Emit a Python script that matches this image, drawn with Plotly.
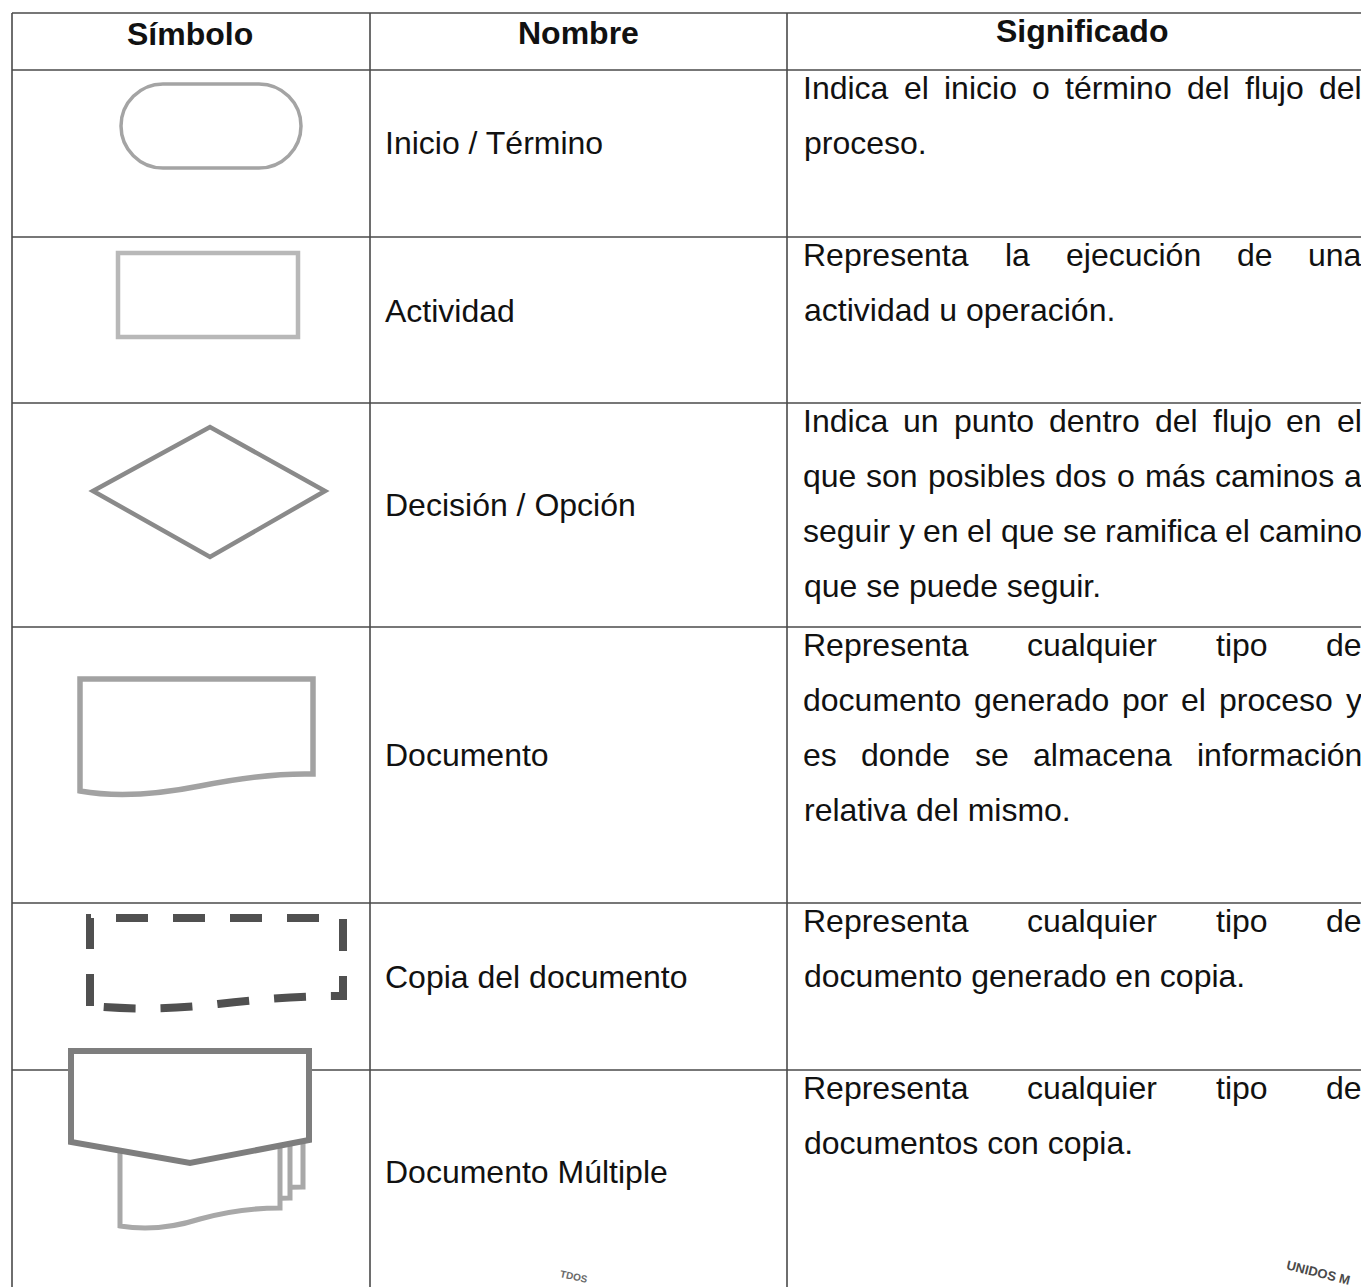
import plotly.graph_objects as go

W, H = 1369, 1287
PAGE_OFF = 8  # default body margin of the html page

# ---------------- data (text content) ----------------
headers = ["Símbolo", "Nombre", "Significado"]
names = ["Inicio / Término", "Actividad", "Decisión / Opción", "Documento",
         "Copia del documento", "Documento Múltiple"]
meanings = [
    ["Indica el inicio o término del flujo del", "proceso."],
    ["Representa la ejecución de una", "actividad u operación."],
    ["Indica un punto dentro del flujo en el", "que son posibles dos o más caminos a",
     "seguir y en el que se ramifica el camino", "que se puede seguir."],
    ["Representa cualquier tipo de", "documento generado por el proceso y",
     "es donde se almacena información", "relativa del mismo."],
    ["Representa cualquier tipo de", "documento generado en copia."],
    ["Representa cualquier tipo de", "documentos con copia."],
]
stamp_texts = ["TDOS", "UNIDOS M"]

# ---------------- layout geometry ----------------
col_x = [12, 370, 787]
top_y = 13
row_tops = [70, 237, 403, 627, 903, 1070]
header_x = [190, 578, 1082]
header_y = [34, 33, 31]
name_x = 383
name_y = [143, 311, 505, 755, 977, 1172]
mean_left, mean_right = 803, 1362
first_line_offset = 18
line_gap = 55
FONT = "Liberation Sans, Arial, Helvetica, sans-serif"
FS = 32
TXT = "#111111"
LINE = "#4a4a4a"

# Arial-like advance widths (per 1000 em) for justification
AW = {' ': 278, 'a': 556, 'b': 556, 'c': 500, 'd': 556, 'e': 556, 'f': 278, 'g': 556,
      'h': 556, 'i': 222, 'j': 222, 'k': 500, 'l': 222, 'm': 833, 'n': 556, 'o': 556,
      'p': 556, 'q': 556, 'r': 333, 's': 500, 't': 278, 'u': 556, 'v': 500, 'w': 722,
      'x': 500, 'y': 500, 'z': 500, 'á': 556, 'é': 556, 'í': 278, 'ó': 556, 'ú': 556,
      '.': 278, 'I': 278, 'R': 722}


def tw(s):
    return sum(AW.get(ch, 556) for ch in s) * FS / 1000.0


fig = go.Figure()
shapes = []
ann = []

# ---------------- table lines ----------------
line_style = dict(color=LINE, width=1.6)
shapes.append(dict(type="line", x0=col_x[0], x1=W + 5, y0=top_y, y1=top_y, line=line_style))
for y in row_tops:
    shapes.append(dict(type="line", x0=col_x[0], x1=W + 5, y0=y, y1=y, line=line_style))
for x in col_x:
    shapes.append(dict(type="line", x0=x, x1=x, y0=top_y, y1=H + 5, line=line_style))

# ---------------- symbols ----------------
# 1. Inicio / Termino (stadium)
x0, x1, y0, y1 = 121, 301, 84, 168
r = (y1 - y0) / 2
k = 0.55 * r
stadium = (f"M {x0 + r},{y0} L {x1 - r},{y0} "
           f"C {x1 - r + k},{y0} {x1},{y0 + r - k} {x1},{y0 + r} "
           f"C {x1},{y0 + r + k} {x1 - r + k},{y1} {x1 - r},{y1} "
           f"L {x0 + r},{y1} "
           f"C {x0 + r - k},{y1} {x0},{y0 + r + k} {x0},{y0 + r} "
           f"C {x0},{y0 + r - k} {x0 + r - k},{y0} {x0 + r},{y0} Z")
shapes.append(dict(type="path", path=stadium, line=dict(color="#a4a4a4", width=3.5)))

# 2. Actividad (rectangle)
shapes.append(dict(type="rect", x0=118, x1=298, y0=253, y1=337,
                   line=dict(color="#b8b8b8", width=4.5)))

# 3. Decision (diamond)
shapes.append(dict(type="path", path="M 93,491 L 210,427 L 325,491 L 210,557 Z",
                   line=dict(color="#8a8a8a", width=4.5)))

# 4. Documento
doc = ("M 80,679 L 313,679 L 313,774 "
       "C 275,773 240,778 200,786 C 160,794 120,798 80,791 Z")
shapes.append(dict(type="path", path=doc, line=dict(color="#a2a2a2", width=5.5)))

# 5. Copia del documento (dashed)
copy_doc = ("M 90,1006 L 90,918 L 343,918 L 343,996 "
            "C 300,996 260,999 218,1004 C 175,1009 135,1010 90,1006 Z")
shapes.append(dict(type="path", path=copy_doc,
                   line=dict(color="#505050", width=8, dash="32px,25px")))


# 6. Documento Multiple
def back_doc(dx, dy):
    return (f"M {120 + dx},{1130 + dy} L {280 + dx},{1130 + dy} L {280 + dx},{1208 + dy} "
            f"C {250 + dx},{1208 + dy} {225 + dx},{1212 + dy} {200 + dx},{1219 + dy} "
            f"C {175 + dx},{1227 + dy} {150 + dx},{1231 + dy} {120 + dx},{1226 + dy} Z")


for dx, dy in [(23, -21), (10, -10), (0, 0)]:
    shapes.append(dict(type="path", path=back_doc(dx, dy), fillcolor="white",
                       line=dict(color="#a8a8a8", width=5)))
shapes.append(dict(type="path", path="M 71,1051 L 309,1051 L 309,1140 L 190,1163 L 71,1142 Z",
                   fillcolor="white", line=dict(color="#7e7e7e", width=6)))

# ---------------- text ----------------
for t, x, y in zip(headers, header_x, header_y):
    ann.append(dict(x=x, y=y, text=f"<b>{t}</b>", xanchor="center", yanchor="middle",
                    font=dict(family=FONT, size=FS, color=TXT)))

for t, y in zip(names, name_y):
    ann.append(dict(x=name_x, y=y, text=t, xanchor="left", yanchor="middle",
                    font=dict(family=FONT, size=FS, color=TXT)))

for rt, lines in zip(row_tops, meanings):
    for i, ln in enumerate(lines):
        y = rt + first_line_offset + i * line_gap
        last = i == len(lines) - 1
        if last:
            ann.append(dict(x=mean_left - 1, y=y, text=ln, xanchor="left", yanchor="middle",
                            font=dict(family=FONT, size=FS, color=TXT)))
        else:
            # justified line: place each word by its centre
            words = ln.split()
            total = sum(tw(w) for w in words)
            gap = (mean_right - mean_left - total) / (len(words) - 1)
            xc = mean_left
            for w in words:
                ann.append(dict(x=xc + tw(w) / 2, y=y, text=w, xanchor="center", yanchor="middle",
                                font=dict(family=FONT, size=FS, color=TXT)))
                xc += tw(w) + gap

# stamp fragments near the bottom edge
ann.append(dict(x=574, y=1276, text=f"<b>{stamp_texts[0]}</b>", xanchor="center", yanchor="middle",
                textangle=12, font=dict(family=FONT, size=10, color="#6a6a6a")))
ann.append(dict(x=1318, y=1272, text=f"<b>{stamp_texts[1]}</b>", xanchor="center", yanchor="middle",
                textangle=14, font=dict(family=FONT, size=13, color="#4a4a4a")))

for a in ann:
    a.update(xref="x", yref="y", showarrow=False)

fig.update_layout(
    width=W - PAGE_OFF, height=H - PAGE_OFF,
    margin=dict(l=0, r=0, t=0, b=0),
    paper_bgcolor="white", plot_bgcolor="white",
    xaxis=dict(range=[PAGE_OFF, W], visible=False, fixedrange=True),
    yaxis=dict(range=[H, PAGE_OFF], visible=False, fixedrange=True),
    shapes=shapes, annotations=ann, showlegend=False,
)
fig.write_html("out.html")
